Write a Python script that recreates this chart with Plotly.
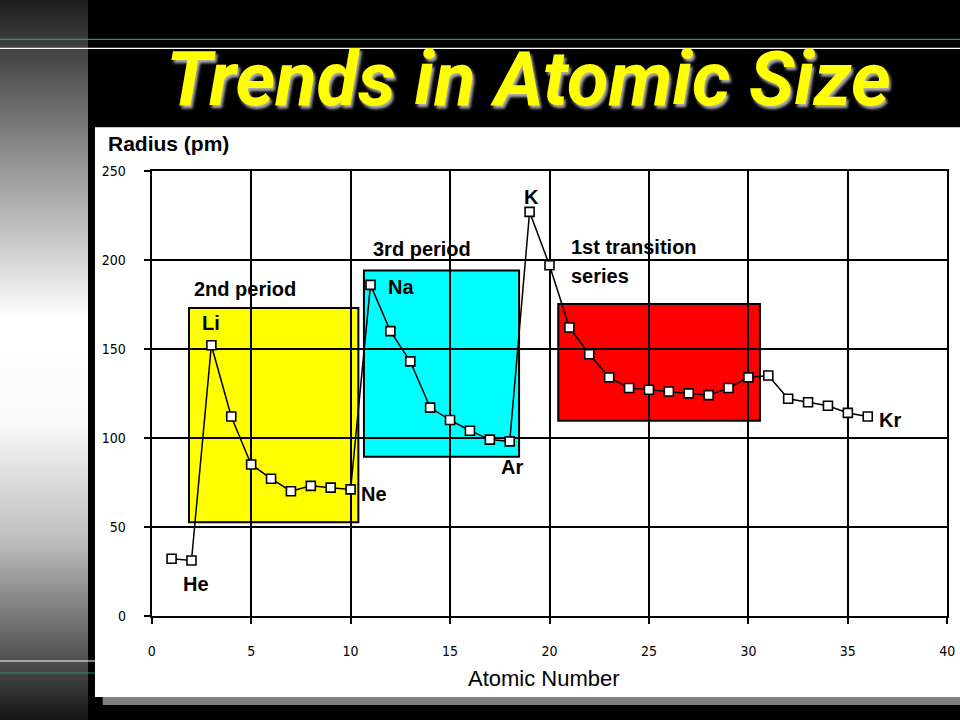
import plotly.graph_objects as go

# ---- data ----
atomic_number = [1, 2, 3, 4, 5, 6, 7, 8, 9, 10, 11, 12, 13, 14, 15, 16, 17, 18,
                 19, 20, 21, 22, 23, 24, 25, 26, 27, 28, 29, 30, 31, 32, 33, 34, 35, 36]
radius_pm = [32, 31, 152, 112, 85, 77, 70, 73, 72, 71,
             186, 160, 143, 117, 110, 104, 99, 98,
             227, 197, 162, 147, 134, 128, 127, 126, 125, 124, 128, 134,
             135, 122, 120, 118, 114, 112]
x_ticks = [0, 5, 10, 15, 20, 25, 30, 35, 40]
y_ticks = [0, 50, 100, 150, 200, 250]

W, H = 960, 720

def px(x):
    return x / W

def py(y):
    return 1 - y / H

fig = go.Figure()

fig.add_trace(go.Scatter(
    x=atomic_number, y=radius_pm, mode="lines+markers",
    line=dict(color="black", width=1.5),
    marker=dict(symbol="square", size=9, color="white",
                line=dict(color="black", width=1.6)),
    showlegend=False, hoverinfo="x+y",
))

shapes = []
# left gradient strip
stops_y = [0, 130, 320, 420, 540, 660, 720]
stops_g = [30, 125, 255, 250, 190, 80, 20]

def gray_at(y):
    for i in range(len(stops_y) - 1):
        if stops_y[i] <= y <= stops_y[i + 1]:
            t = (y - stops_y[i]) / (stops_y[i + 1] - stops_y[i])
            return stops_g[i] + t * (stops_g[i + 1] - stops_g[i])
    return stops_g[-1]

band = 4
for y0 in range(0, H, band):
    g = int(round(gray_at(y0 + band / 2)))
    shapes.append(dict(type="rect", xref="paper", yref="paper",
                       x0=0, x1=px(88), y0=py(y0), y1=py(y0 + band + 0.5),
                       fillcolor=f"rgb({g},{g},{g})", line=dict(width=0),
                       layer="below"))
# decorative lines
for yy, col in [(39.3, "#2f8a78"), (48.3, "white"), (661, "white"), (673, "#2f8a78")]:
    shapes.append(dict(type="line", xref="paper", yref="paper",
                       x0=0, x1=1, y0=py(yy), y1=py(yy),
                       line=dict(color=col, width=1.2), layer="below"))
# shadow and white panel
shapes.append(dict(type="rect", xref="paper", yref="paper",
                   x0=px(102.7), x1=1, y0=py(705), y1=py(696),
                   fillcolor="#808080", line=dict(width=0), layer="below"))
shapes.append(dict(type="rect", xref="paper", yref="paper",
                   x0=px(95), x1=1, y0=py(697), y1=py(127.3),
                   fillcolor="white", line=dict(width=0), layer="below"))
# coloured boxes
for x0, x1, y0, y1, col in [(1.875, 10.39, 52.6, 173.0, "#FFFF00"),
                            (10.67, 18.47, 89.4, 194.1, "#00FFFF"),
                            (20.44, 30.58, 109.6, 175.3, "#FF0000")]:
    shapes.append(dict(type="rect", xref="x", yref="y",
                       x0=x0, x1=x1, y0=y0, y1=y1,
                       fillcolor=col, line=dict(color="black", width=2),
                       layer="below"))

lab_font = dict(family="Liberation Sans, Arial, sans-serif", size=20,
                color="black", weight="bold")
labels = [("2nd period", 2.01, 183.5), ("Li", 2.43, 164.6), ("He", 1.45, 17.6),
          ("Ne", 10.42, 68.5), ("3rd period", 11.03, 206.0), ("Na", 11.78, 184.6),
          ("K", 18.62, 235.6), ("Ar", 17.48, 83.4), ("1st transition", 21.0, 207.2),
          ("series", 21.0, 191.2), ("Kr", 36.48, 110.1)]
annotations = []
for t, x, y in labels:
    annotations.append(dict(text=t, x=x, y=y, xref="x", yref="y",
                            xanchor="left", yanchor="middle", showarrow=False,
                            font=lab_font))

# axis titles
annotations.append(dict(text="Radius (pm)", x=px(105.5), y=py(144), xref="paper", yref="paper",
                        xanchor="left", yanchor="middle", showarrow=False,
                        font=dict(family="Liberation Sans, Arial, sans-serif", size=21,
                                  color="black", weight="bold")))
annotations.append(dict(text="Atomic Number", x=px(544), y=py(678), xref="paper", yref="paper",
                        xanchor="center", yanchor="middle", showarrow=False,
                        font=dict(family="Liberation Sans, Arial, sans-serif", size=22,
                                  color="black")))
# title with soft shadow
annotations.append(dict(text="Trends in Atomic Size", x=px(528), y=py(79), xref="paper",
                        yref="paper", xanchor="center", yanchor="middle", showarrow=False,
                        font=dict(family="Roboto, sans-serif", size=76, weight="bold",
                                  style="italic", color="#FFFF00",
                                  shadow="2px 3px 3px #b0b0b0")))

tick_font = dict(family="Liberation Sans Narrow, DejaVu Sans Condensed, Arial, sans-serif",
                 size=14, color="black")
axis_common = dict(showgrid=True, gridcolor="black", gridwidth=2, zeroline=False,
                   showline=True, linecolor="black", linewidth=2, mirror=True,
                   ticks="outside", ticklen=6, tickwidth=2, tickcolor="black",
                   tickfont=tick_font, fixedrange=True, automargin=False)

fig.update_layout(
    width=W, height=H,
    margin=dict(l=0, r=0, t=0, b=0, pad=0, autoexpand=False),
    paper_bgcolor="black", plot_bgcolor="white",
    xaxis=dict(range=[0, 40], tickvals=x_ticks, ticktext=[str(v) for v in x_ticks],
               domain=[px(151.7), px(947.3)], ticklabelstandoff=15, **axis_common),
    yaxis=dict(range=[0, 250], tickvals=y_ticks, ticktext=[str(v) for v in y_ticks],
               domain=[py(615.7), py(171)], ticklabelstandoff=15, **axis_common),
    shapes=shapes, annotations=annotations,
)

# page style: remove the default body margin so the 960x720 figure fills the window
page_style = ("}) }</script><style>html,body{margin:0;padding:0;background:#000;"
              "overflow:hidden;}</style><script>if(0){(function(){")

fig.write_html("out.html", config={"displayModeBar": False}, post_script=page_style)
